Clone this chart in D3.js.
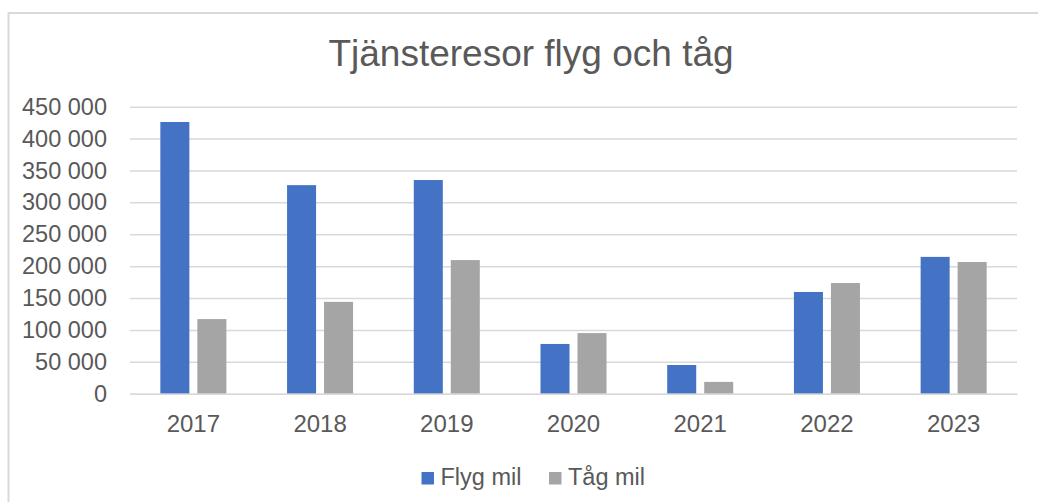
<!DOCTYPE html>
<html><head><meta charset="utf-8">
<script src="https://cdn.jsdelivr.net/npm/d3@7"></script>
<style>body{margin:0;background:#fff;}svg{display:block;font-family:"Liberation Sans",Arial,sans-serif;}</style>
</head><body>
<svg id="c" width="1038" height="502"></svg>
<script>
const years = ["2017","2018","2019","2020","2021","2022","2023"];
const seriesNames = ["Flyg mil","Tåg mil"];
const flyg = [426000, 327000, 335000, 78000, 45000, 159500, 214500];
const tag = [117000, 144000, 209500, 95000, 18500, 173500, 206500];
const yTicks = [0,50000,100000,150000,200000,250000,300000,350000,400000,450000];
const colors = ["#4472C4","#A5A5A5"];

const svg = d3.select("#c");
const M = {left:130, right:1017, top:106.7, bottom:393.7};

svg.append("rect").attr("x",8.5).attr("y",13).attr("width",1100).attr("height",600)
  .attr("fill","none").attr("stroke","#d9d9d9").attr("stroke-width",2);

svg.append("text").attr("x",531).attr("y",66).attr("text-anchor","middle")
  .attr("font-size",37).attr("fill","#595959").text("Tjänsteresor flyg och tåg");

const y = d3.scaleLinear().domain([0,450000]).range([M.bottom,M.top]);
const x0 = d3.scaleBand().domain(years).range([M.left,M.right]).paddingInner(0.479).paddingOuter(0.2395);
const x1 = d3.scaleBand().domain(seriesNames).range([0,x0.bandwidth()]).paddingInner(0.216);

const fmt = v => d3.format(",")(v).replace(/,/g," ");
const yAxis = d3.axisLeft(y).tickValues(yTicks).tickFormat(fmt).tickSize(M.left-M.right).tickPadding(23);
const gy = svg.append("g").attr("transform",`translate(${M.left},0)`).call(yAxis);
gy.select(".domain").remove();
gy.selectAll(".tick line").attr("stroke","#d9d9d9").attr("stroke-width",1.5);
gy.selectAll(".tick text").attr("font-size",23.5).attr("fill","#595959").attr("font-family","Liberation Sans, Arial, sans-serif");

const data = years.map((yr,i)=>({year:yr, vals:[flyg[i],tag[i]]}));
const g = svg.append("g").selectAll("g").data(data).join("g")
  .attr("transform",d=>`translate(${x0(d.year)},0)`);
g.selectAll("rect").data(d=>d.vals.map((v,j)=>({k:seriesNames[j],v,j}))).join("rect")
  .attr("x",d=>x1(d.k)).attr("width",x1.bandwidth())
  .attr("y",d=>y(d.v)).attr("height",d=>y(0)-y(d.v)).attr("fill",d=>colors[d.j]);

const xAxis = d3.axisBottom(x0).tickSize(0).tickPadding(21);
const gx = svg.append("g").attr("transform",`translate(0,${M.bottom})`).call(xAxis);
gx.select(".domain").attr("stroke","#d9d9d9").attr("stroke-width",1.5);
gx.selectAll(".tick text").attr("font-size",24).attr("fill","#595959").attr("font-family","Liberation Sans, Arial, sans-serif");

const legX = [421.5, 549];
const leg = svg.append("g").selectAll("g").data(seriesNames).join("g")
  .attr("transform",(d,i)=>`translate(${legX[i]},472)`);
leg.append("rect").attr("width",12.5).attr("height",12.5).attr("fill",(d,i)=>colors[i]);
leg.append("text").attr("x",19).attr("y",13).attr("font-size",23.5).attr("fill","#595959").text(d=>d);
</script>
</body></html>
